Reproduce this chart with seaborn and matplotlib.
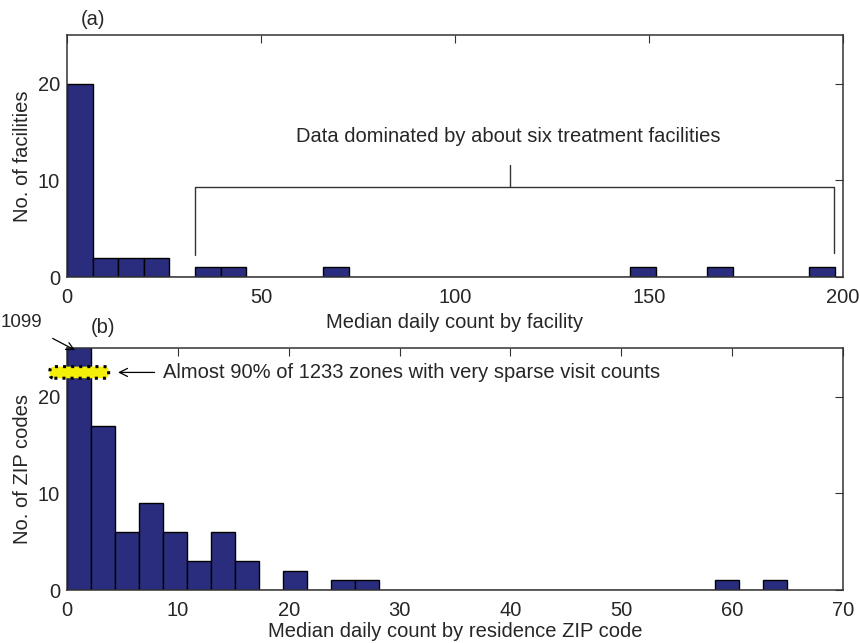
import numpy as np
import pandas as pd
import seaborn as sns
import matplotlib.pyplot as plt
from matplotlib.patches import FancyBboxPatch

# (a) facility histogram: 30 bins over 0-198
facility_range = (0, 198)
facility_counts = [20, 2, 2, 2, 0, 1, 1, 0, 0, 0, 1, 0, 0, 0, 0,
                   0, 0, 0, 0, 0, 0, 0, 1, 0, 0, 1, 0, 0, 0, 1]

# (b) ZIP code histogram: 30 bins over 0-65
zip_range = (0, 65)
zip_counts = [1099, 17, 6, 9, 6, 3, 6, 3, 0, 2, 0, 1, 1, 0, 0,
              0, 0, 0, 0, 0, 0, 0, 0, 0, 0, 0, 0, 1, 0, 1]

bar_color = '#2a2d7e'
fs = 14.5

sns.set_style('white')
plt.rcParams['font.family'] = ['Liberation Sans', 'DejaVu Sans']
plt.rcParams['font.size'] = fs


def draw_hist(ax, counts, rng):
    edges = np.linspace(rng[0], rng[1], len(counts) + 1)
    df = pd.DataFrame({'center': (edges[:-1] + edges[1:]) / 2, 'count': counts})
    sns.histplot(data=df, x='center', weights='count', bins=len(counts), binrange=rng,
                 ax=ax, color=bar_color, alpha=1, edgecolor='black', linewidth=1)
    ax.tick_params(direction='in', top=True, right=True, length=6,
                   labelsize=fs, color='#333333')
    ax.tick_params(axis='x', pad=8)
    ax.tick_params(axis='y', pad=5)
    for s in ax.spines.values():
        s.set_color('#333333')
        s.set_linewidth(1.1)


fig = plt.figure(figsize=(8.6, 6.43), dpi=100)
ax1 = fig.add_axes([0.078, 0.569, 0.902, 0.376])
ax2 = fig.add_axes([0.078, 0.0824, 0.902, 0.376])

# panel (a)
draw_hist(ax1, facility_counts, facility_range)
ax1.set_xlim(0, 200)
ax1.set_ylim(0, 25)
ax1.set_xticks([0, 50, 100, 150, 200])
ax1.set_yticks([0, 10, 20])
ax1.set_xlabel('Median daily count by facility', fontsize=fs, labelpad=4)
ax1.set_ylabel('No. of facilities', fontsize=fs, labelpad=4)
ax1.text(6.7, 26.6, '(a)', ha='center', va='center', fontsize=fs)
ax1.plot([33, 33, 197.7, 197.7], [2.3, 9.3, 9.3, 2.5], color='#333333', lw=1, clip_on=False)
ax1.plot([114.2, 114.2], [9.3, 11.6], color='#333333', lw=1)
ax1.text(113.7, 14.5, 'Data dominated by about six treatment facilities',
         ha='center', va='center', fontsize=fs)

# panel (b)
draw_hist(ax2, zip_counts, zip_range)
ax2.set_xlim(0, 70)
ax2.set_ylim(0, 25)
ax2.set_xticks(range(0, 71, 10))
ax2.set_yticks([0, 10, 20])
ax2.set_xlabel('Median daily count by residence ZIP code', fontsize=fs, labelpad=1.5)
ax2.set_ylabel('No. of ZIP codes', fontsize=fs, labelpad=4)
ax2.text(3.25, 27.1, '(b)', ha='center', va='center', fontsize=fs)
ax2.annotate('1099', xy=(0.72, 24.8), xytext=(-4.1, 27.7), ha='center', va='center',
             fontsize=13.5, annotation_clip=False,
             arrowprops=dict(arrowstyle='->', color='black', lw=0.9, shrinkA=7, shrinkB=0))
band = FancyBboxPatch((-1.5, 21.95), 5.2, 1.1, boxstyle='round,pad=0.05,rounding_size=0.4',
                      facecolor='#f5f00a', edgecolor='black', linestyle=':', linewidth=2.2,
                      clip_on=False, zorder=5, mutation_aspect=1)
ax2.add_patch(band)
ax2.annotate('', xy=(4.6, 22.5), xytext=(7.9, 22.5), annotation_clip=False,
             arrowprops=dict(arrowstyle='->', color='black', lw=0.9, shrinkA=0, shrinkB=0))
ax2.text(8.65, 22.5, 'Almost 90% of 1233 zones with very sparse visit counts',
         ha='left', va='center', fontsize=fs)

fig.savefig('out.png', dpi=100)
